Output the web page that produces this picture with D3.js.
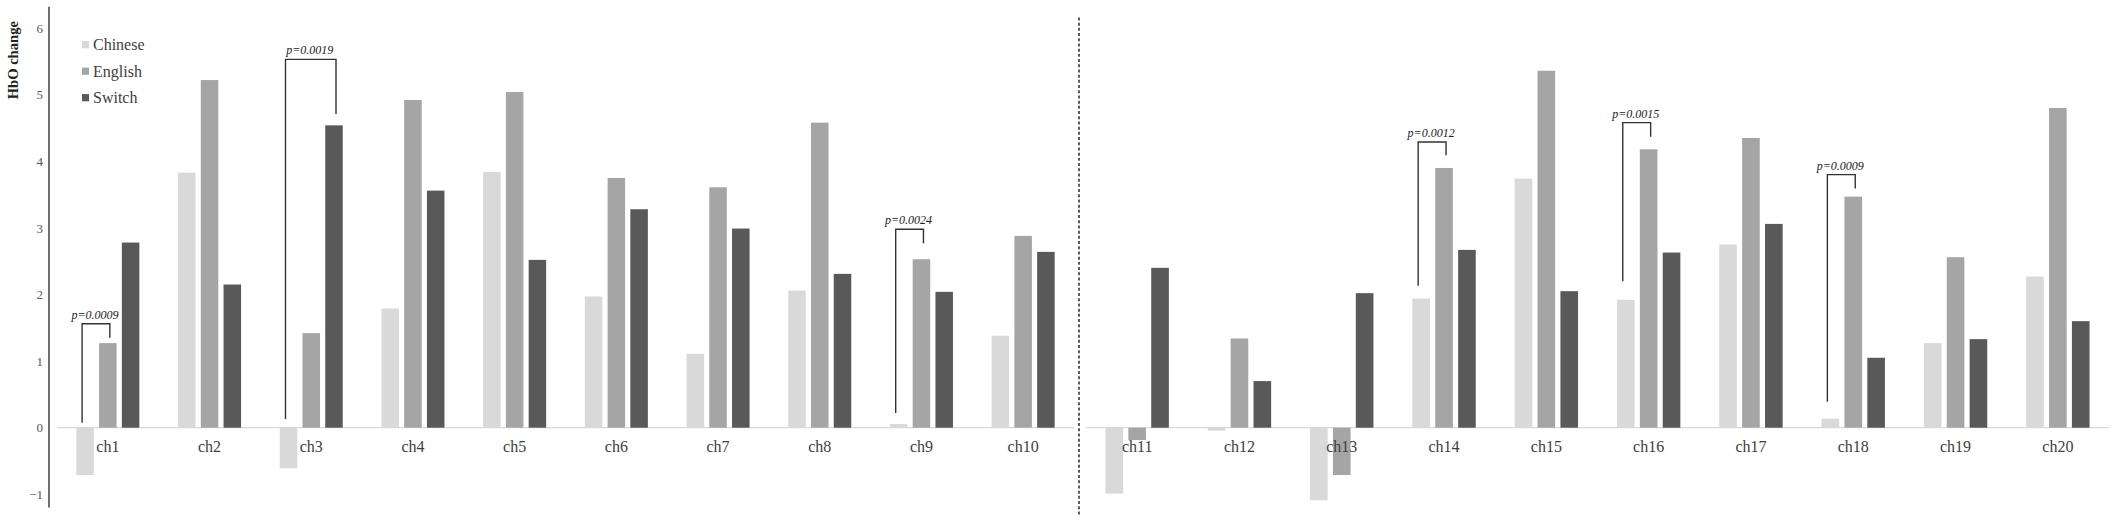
<!DOCTYPE html>
<html>
<head>
<meta charset="utf-8">
<script src="https://cdn.jsdelivr.net/npm/d3@7"></script>
<style>
  html, body { margin: 0; padding: 0; background: #fff; }
  svg { display: block; }
</style>
</head>
<body>
<svg id="chart" width="2117" height="532"></svg>
<script>
// ---------- data ----------
const categoriesLeft = ["ch1","ch2","ch3","ch4","ch5","ch6","ch7","ch8","ch9","ch10"];
const categoriesRight = ["ch11","ch12","ch13","ch14","ch15","ch16","ch17","ch18","ch19","ch20"];
const seriesNames = ["Chinese","English","Switch"];
const seriesColors = ["#d9d9d9","#a5a5a5","#595959"];
const chineseValues = [-0.71,3.83,-0.61,1.79,3.84,1.97,1.11,2.06,0.055,1.38,-0.99,-0.045,-1.09,1.94,3.74,1.92,2.75,0.135,1.27,2.27];
const englishValues = [1.27,5.22,1.42,4.92,5.04,3.75,3.61,4.58,2.53,2.88,-0.185,1.34,-0.71,3.90,5.36,4.18,4.35,3.47,2.56,4.80];
const switchValues  = [2.78,2.15,4.54,3.56,2.52,3.28,2.99,2.31,2.04,2.64,2.40,0.70,2.02,2.67,2.05,2.63,3.06,1.05,1.33,1.60];
const yTicks = [-1,0,1,2,3,4,5,6];
const yAxisTitle = "HbO change";
// significance brackets: channel, bars compared, bracket top, leg ends (data units), label
const brackets = [
  {ch:"ch1",  from:"Chinese", to:"English", top:1.56, fromEnd:0.075, toEnd:1.35, label:"p=0.0009"},
  {ch:"ch3",  from:"Chinese", to:"Switch",  top:5.53, fromEnd:0.13,  toEnd:4.71, label:"p=0.0019"},
  {ch:"ch9",  from:"Chinese", to:"English", top:2.98, fromEnd:0.22,  toEnd:2.77, label:"p=0.0024"},
  {ch:"ch14", from:"Chinese", to:"English", top:4.29, fromEnd:2.13,  toEnd:4.09, label:"p=0.0012"},
  {ch:"ch16", from:"Chinese", to:"English", top:4.58, fromEnd:2.20,  toEnd:4.37, label:"p=0.0015"},
  {ch:"ch18", from:"Chinese", to:"English", top:3.80, fromEnd:0.39,  toEnd:3.59, label:"p=0.0009"}
];

// ---------- build table ----------
const allCats = categoriesLeft.concat(categoriesRight);
const valuesBySeries = {Chinese: chineseValues, English: englishValues, Switch: switchValues};
const table = allCats.map((c, i) => ({
  cat: c,
  vals: seriesNames.map(s => ({series: s, value: valuesBySeries[s][i]}))
}));

const serif = "'Liberation Serif','Times New Roman',serif";
const svg = d3.select("#chart");

// ---------- scales ----------
const y = d3.scaleLinear().domain([-1, 6]).range([494.3, 28.1]);
const xLeft = d3.scaleBand().domain(categoriesLeft).range([57, 1074]).paddingInner(0).paddingOuter(0);
const xRight = d3.scaleBand().domain(categoriesRight).range([1086, 2109]).paddingInner(0).paddingOuter(0);
const xCat = c => categoriesLeft.includes(c) ? xLeft(c) : xRight(c);
const bandOf = c => categoriesLeft.includes(c) ? xLeft.bandwidth() : xRight.bandwidth();
const innerFor = c => d3.scaleBand().domain(seriesNames).range([0, bandOf(c)]).paddingInner(0.23).paddingOuter(0.85);
const color = d3.scaleOrdinal().domain(seriesNames).range(seriesColors);

// ---------- zero lines (category axes) ----------
[xLeft, xRight].forEach(sc => {
  svg.append("line")
    .attr("x1", sc.range()[0]).attr("x2", sc.range()[1])
    .attr("y1", y(0)).attr("y2", y(0))
    .attr("stroke", "#d9d9d9").attr("stroke-width", 1.2);
});

// ---------- bars ----------
const groups = svg.append("g").selectAll("g.grp").data(table).join("g")
  .attr("class", "grp")
  .attr("transform", d => `translate(${xCat(d.cat)},0)`);
groups.each(function(d) {
  const x1 = innerFor(d.cat);
  d3.select(this).selectAll("rect").data(d.vals).join("rect")
    .attr("x", v => x1(v.series))
    .attr("width", x1.bandwidth())
    .attr("y", v => y(Math.max(0, v.value)))
    .attr("height", v => Math.abs(y(v.value) - y(0)))
    .attr("fill", v => color(v.series));
});

// ---------- category labels ----------
svg.append("g").selectAll("text").data(allCats).join("text")
  .attr("x", c => xCat(c) + bandOf(c) / 2)
  .attr("y", y(0) + 24.5)
  .attr("text-anchor", "middle")
  .attr("font-family", serif).attr("font-size", 16).attr("fill", "#404040")
  .text(c => c);

// ---------- y axis ----------
const yAxis = d3.axisLeft(y).tickValues(yTicks).tickSize(0).tickPadding(6).tickFormat(d3.format("d"));
const gy = svg.append("g").attr("transform", "translate(49,0)").call(yAxis);
gy.select(".domain").remove();
gy.selectAll("text").attr("font-family", serif).attr("font-size", 13).attr("fill", "#595959");
gy.append("line").attr("x1", 0).attr("x2", 0)
  .attr("y1", y(6.32)).attr("y2", y(-1.2))
  .attr("stroke", "#404040").attr("stroke-width", 1.5);

svg.append("text")
  .attr("transform", `translate(18,${y(5.0) - 34.5}) rotate(-90)`)
  .attr("text-anchor", "middle")
  .attr("font-family", serif).attr("font-size", 14.6).attr("font-weight", "bold").attr("fill", "#222")
  .text(yAxisTitle);

// ---------- legend ----------
const legend = svg.append("g").attr("transform", "translate(82,44.7)");
const lg = legend.selectAll("g").data(seriesNames).join("g")
  .attr("transform", (d, i) => `translate(0,${i * 26.5})`);
lg.append("rect").attr("x", 0).attr("y", -3.6).attr("width", 7).attr("height", 7.2).attr("fill", d => color(d));
lg.append("text").attr("x", 11).attr("y", 5.5)
  .attr("font-family", serif).attr("font-size", 16).attr("fill", "#404040")
  .text(d => d);

// ---------- divider ----------
const midX = (xLeft.range()[1] + xRight.range()[0]) / 2 - 1;
svg.append("line").attr("x1", midX).attr("x2", midX)
  .attr("y1", y(6.16)).attr("y2", y(-1.31))
  .attr("stroke", "#333").attr("stroke-width", 1.6).attr("stroke-dasharray", "3,2.2");

// ---------- significance brackets ----------
const bg = svg.append("g");
brackets.forEach(b => {
  const x1 = innerFor(b.ch);
  const base = xCat(b.ch);
  const xa = base + x1(b.from) + x1.bandwidth() / 2 - 3;
  const xb = base + x1(b.to) + x1.bandwidth() / 2 + 2;
  bg.append("path")
    .attr("d", `M${xa},${y(b.fromEnd)}V${y(b.top)}H${xb}V${y(b.toEnd)}`)
    .attr("fill", "none").attr("stroke", "#333").attr("stroke-width", 1.4);
  bg.append("text")
    .attr("x", (xa + xb) / 2 - 1)
    .attr("y", y(b.top) - 5)
    .attr("text-anchor", "middle")
    .attr("font-family", serif).attr("font-style", "italic").attr("font-size", 12).attr("fill", "#222")
    .text(b.label);
});
</script>
</body>
</html>
